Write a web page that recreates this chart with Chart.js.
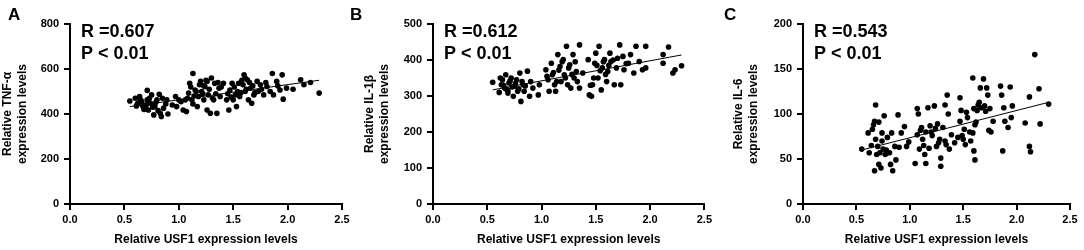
<!DOCTYPE html>
<html>
<head>
<meta charset="utf-8">
<script src="https://cdn.jsdelivr.net/npm/chart.js@4.4.1/dist/chart.umd.min.js"></script>
<style>
  body { margin: 0; background: #fff; }
  #wrap { position: relative; width: 1084px; height: 250px; }
  #wrap canvas { position: absolute; top: 0; }
</style>
</head>
<body>
<div id="wrap">
  <canvas id="chartA" width="360" height="250" style="left:0px;width:360px;height:250px"></canvas>
  <canvas id="chartB" width="370" height="250" style="left:345px;width:370px;height:250px"></canvas>
  <canvas id="chartC" width="369" height="250" style="left:715px;width:369px;height:250px"></canvas>
</div>
<script>
// panel A: USF1 vs TNF-a
const usf1A = [
  0.55,0.60,0.61,0.64,0.66,0.67,0.71,0.71,0.72,0.74,
  0.75,0.77,0.78,0.80,0.82,0.83,0.84,0.86,0.90,0.89,
  0.94,0.97,0.98,1.00,1.04,1.06,1.07,1.09,1.10,1.12,
  1.13,1.15,1.17,1.18,1.20,1.21,1.23,1.24,1.26,1.27,
  1.29,1.30,1.32,1.33,1.35,1.37,1.38,1.41,1.44,1.46,
  1.47,1.49,1.50,1.52,1.53,1.55,1.56,1.60,1.61,1.63,
  1.64,1.66,1.67,1.69,1.72,1.73,1.75,1.78,1.81,1.86,
  1.87,1.90,1.93,1.95,1.96,1.99,2.12,2.15,2.21,2.29,
  0.62,0.65,0.68,0.70,0.73,0.76,0.79,0.81,0.85,0.88,
  1.02,1.08,1.11,1.13,1.16,1.19,1.22,1.25,1.28,1.31,
  1.34,1.36,1.39,1.45,1.48,1.51,1.54,1.58,1.59,1.62,
  1.65,1.68,1.70,1.76,1.80,1.84,1.91,2.05,0.69,0.72,
  0.63,1.14,1.23,1.26,1.57,1.61
];
const tnfA = [
  458,470,436,478,455,433,505,463,418,448,
  485,396,433,463,488,403,389,426,400,463,
  440,478,433,463,418,463,411,493,537,463,
  580,507,433,478,545,500,463,522,418,485,
  403,560,463,537,403,515,478,537,463,418,
  507,537,463,485,433,537,478,574,500,552,
  463,515,448,485,545,500,530,485,522,580,
  485,545,507,574,466,515,552,530,540,493,
  445,462,420,440,470,430,452,415,470,445,
  455,470,520,445,500,530,490,550,510,470,
  490,540,520,490,475,520,500,550,530,510,
  540,525,495,510,540,500,525,510,425,455,
  450,480,525,545,495,560
];
const fitXA = [0.55, 2.29];
const fitYA = [433, 550];

// panel B: USF1 vs IL-1b
const usf1B = [
  0.55,0.61,0.63,0.64,0.66,0.67,0.69,0.70,0.72,0.74,
  0.75,0.77,0.78,0.80,0.81,0.83,0.84,0.87,0.89,0.90,
  0.92,0.97,0.98,1.04,1.06,1.07,1.09,1.10,1.12,1.13,
  1.15,1.17,1.18,1.20,1.21,1.23,1.24,1.26,1.27,1.29,
  1.30,1.32,1.35,1.35,1.38,1.43,1.44,1.46,1.47,1.49,
  1.50,1.52,1.53,1.55,1.56,1.58,1.60,1.61,1.63,1.64,
  1.67,1.69,1.72,1.73,1.75,1.76,1.80,1.82,1.85,1.87,
  1.90,1.93,1.96,1.96,2.12,2.12,2.17,2.21,2.23,2.29,
  0.65,0.68,0.71,0.73,0.76,0.79,0.82,0.85,0.62,0.69,
  1.05,1.11,1.14,1.16,1.19,1.22,1.25,1.28,1.31,1.33,
  1.45,1.48,1.51,1.54,1.57,1.59,1.62,1.66,1.70,1.78
];
const il1bB = [
  338,310,331,345,322,359,308,336,350,299,
  327,345,313,364,285,331,313,369,299,340,
  322,303,331,373,345,313,391,359,331,313,
  415,382,340,401,359,438,331,387,322,415,
  350,368,442,322,364,401,303,299,331,391,
  419,350,438,317,378,401,340,368,419,396,
  331,378,442,331,410,373,391,415,364,438,
  396,373,438,378,391,415,436,364,373,384,
  330,318,342,325,335,320,340,328,350,315,
  355,365,340,372,395,350,378,360,395,340,
  330,350,385,370,395,360,385,400,405,390
];
const fitXB = [0.55, 2.29];
const fitYB = [317, 414];

// panel C: USF1 vs IL-6
const usf1C = [
  0.55,0.61,0.62,0.64,0.65,0.67,0.67,0.68,0.68,0.70,
  0.71,0.71,0.72,0.73,0.74,0.75,0.76,0.77,0.79,0.81,
  0.82,0.83,0.84,0.86,0.87,0.89,0.90,0.92,0.95,0.97,
  0.99,1.05,1.07,1.07,1.08,1.09,1.11,1.12,1.14,1.15,
  1.15,1.17,1.18,1.19,1.21,1.23,1.24,1.25,1.26,1.28,
  1.29,1.29,1.31,1.33,1.33,1.35,1.36,1.37,1.39,1.42,
  1.45,1.47,1.47,1.48,1.49,1.51,1.53,1.54,1.57,1.59,
  1.59,1.60,1.61,1.62,1.63,1.65,1.66,1.69,1.70,1.72,
  1.73,1.74,1.75,1.78,1.85,1.86,1.87,1.88,1.89,1.92,
  1.94,1.95,1.96,2.08,2.12,2.12,2.13,2.17,2.21,2.22,
  2.30,0.66,0.69,0.74,0.78,1.10,1.13,1.20,1.27,1.34,
  1.50,1.56,1.60,1.64,1.67,1.71,1.76,1.52,1.61
];
const il6C = [
  61,79,57,65,83,92,37,110,72,64,
  91,44,57,40,79,61,98,55,74,57,
  44,79,37,64,49,99,63,79,86,64,
  69,45,77,106,100,61,85,72,55,45,
  80,107,62,87,76,109,84,64,89,72,
  42,51,85,110,70,121,100,61,77,68,
  74,92,118,104,76,83,102,96,70,140,
  79,59,49,91,104,113,129,139,109,129,
  121,82,106,92,131,121,59,107,92,85,
  130,96,109,90,119,64,58,166,128,89,
  111,88,55,70,60,82,65,80,68,66,
  72,80,106,110,107,103,80,66,88
];
const fitXC = [0.55, 2.30];
const fitYC = [60, 113];

const xTicks = [0, 0.5, 1.0, 1.5, 2.0, 2.5];

const FONT = '"Liberation Sans", Arial, sans-serif';

const panelText = {
  id: 'panelText',
  afterDraw(chart, args, opts) {
    const ctx = chart.ctx;
    const left = chart.chartArea.left;
    ctx.save();
    ctx.fillStyle = '#000';
    ctx.textAlign = 'left';
    ctx.textBaseline = 'alphabetic';
    ctx.font = 'bold 17px ' + FONT;
    ctx.fillText(opts.letter, opts.letterX, 20);
    ctx.font = 'bold 18px ' + FONT;
    ctx.fillText(opts.r, left + 11, 37);
    ctx.fillText('P < 0.01', left + 11, 59);
    ctx.restore();
  }
};

function makeChart(id, xs, ys, fx, fy, yMax, yStep, yTitle, pad, yWidth, letter, letterX, rText) {
  const ctx = document.getElementById(id).getContext('2d');
  new Chart(ctx, {
    type: 'scatter',
    data: {
      datasets: [
        {
          data: xs.map((x, i) => ({ x: x, y: ys[i] })),
          backgroundColor: '#000',
          borderWidth: 0,
          pointRadius: 2.8,
        },
        {
          type: 'line',
          data: fx.map((x, i) => ({ x: x, y: fy[i] })),
          borderColor: '#000',
          borderWidth: 1,
          pointRadius: 0,
          fill: false,
        }
      ]
    },
    options: {
      responsive: false,
      animation: false,
      layout: { padding: { left: pad[0], right: pad[1], top: 24, bottom: 0 } },
      plugins: {
        legend: { display: false },
        tooltip: { enabled: false },
        panelText: { letter: letter, letterX: letterX, r: rText }
      },
      scales: {
        x: {
          type: 'linear',
          min: 0,
          max: 2.5,
          afterBuildTicks: (scale) => { scale.ticks = xTicks.map(v => ({ value: v })); },
          afterFit: (scale) => { scale.height = 46; },
          ticks: {
            color: '#000',
            padding: 3,
            font: { family: FONT, size: 11, weight: 'bold' },
            callback: (v) => Number(v).toFixed(1),
          },
          grid: { drawOnChartArea: false, tickLength: 6, color: '#000', lineWidth: 2 },
          border: { color: '#000', width: 2 },
          title: {
            display: true,
            text: 'Relative USF1 expression levels',
            color: '#000',
            font: { family: FONT, size: 12, weight: 'bold', lineHeight: 1.25 },
            padding: { top: 0, bottom: 3 }
          }
        },
        y: {
          type: 'linear',
          min: 0,
          max: yMax,
          afterFit: (scale) => { scale.width = yWidth; },
          ticks: {
            stepSize: yStep,
            color: '#000',
            padding: 5,
            font: { family: FONT, size: 11, weight: 'bold' },
          },
          grid: { drawOnChartArea: false, tickLength: 6, color: '#000', lineWidth: 2 },
          border: { color: '#000', width: 2 },
          title: {
            display: true,
            text: yTitle,
            color: '#000',
            font: { family: FONT, size: 12, weight: 'bold', lineHeight: 1.25 },
            padding: { top: 0.5, bottom: 0 }
          }
        }
      }
    },
    plugins: [panelText]
  });
}

makeChart('chartA', usf1A, tnfA, fitXA, fitYA, 800, 200,
  ['Relative TNF-α', 'expression levels'], [0, 18], 70, 'A', 8, 'R =0.607');
makeChart('chartB', usf1B, il1bB, fitXB, fitYB, 500, 100,
  ['Relative IL-1β', 'expression levels'], [17, 10], 71, 'B', 5, 'R =0.612');
makeChart('chartC', usf1C, il6C, fitXC, fitYC, 200, 50,
  ['Relative IL-6', 'expression levels'], [16, 14], 72, 'C', 9, 'R =0.543');
</script>
</body>
</html>
